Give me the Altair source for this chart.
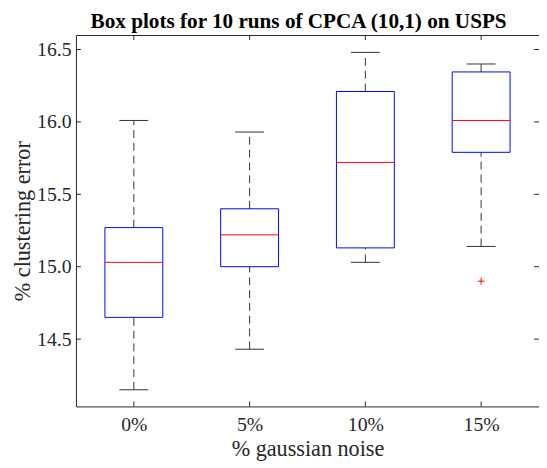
import json
import altair as alt
import pandas as pd

# ---- data ----
categories = ["0%", "5%", "10%", "15%"]
positions = [1, 2, 3, 4]
lower_whisker = [14.15, 14.43, 15.03, 15.14]
q1 = [14.65, 15.00, 15.13, 15.79]
median = [15.03, 15.22, 15.72, 16.01]
q3 = [15.27, 15.40, 16.21, 16.345]
upper_whisker = [16.01, 15.93, 16.48, 16.40]
outlier_pos = [4]
outlier_val = [14.90]
y_ticks = [14.5, 15, 15.5, 16, 16.5]

W, H = 470, 377
FONT = "Liberation Serif"
AXC = "#262626"

df = pd.DataFrame({"pos": positions, "cat": categories, "lo": lower_whisker,
                   "q1": q1, "med": median, "q3": q3, "hi": upper_whisker})
df_out = pd.DataFrame({"pos": outlier_pos, "val": outlier_val})
df_yt = pd.DataFrame({"v": y_ticks})

xs = alt.Scale(domain=[0.5, 4.5], nice=False, zero=False)
ys = alt.Scale(domain=[14.035, 16.6], nice=False, zero=False)

label_expr = json.dumps(categories) + "[datum.value - 1]"

base = alt.Chart(df).transform_calculate(
    bl="datum.pos - 0.25", br="datum.pos + 0.25",
    cl="datum.pos - 0.125", cr="datum.pos + 0.125")

xaxis = alt.Axis(values=positions, labelExpr=label_expr, title="% gaussian noise",
                 ticks=False, domain=False, grid=False, labelFontSize=20,
                 labelPadding=8, titleFontSize=22.5, titleFontWeight="normal",
                 titlePadding=4, labelColor=AXC, titleColor=AXC)
yaxis = alt.Axis(values=y_ticks, title="% clustering error", ticks=False, domain=False,
                 grid=False, labelFontSize=20, labelPadding=5, titleFontSize=22.5,
                 titleFontWeight="normal", titlePadding=2, labelColor=AXC, titleColor=AXC)

whisk_up = base.mark_rule(color="#333333", strokeDash=[8, 5], strokeWidth=1).encode(
    x=alt.X("pos:Q", scale=xs, axis=xaxis),
    y=alt.Y("q3:Q", scale=ys, axis=yaxis),
    y2="hi:Q")
whisk_dn = base.mark_rule(color="#333333", strokeDash=[8, 5], strokeWidth=1).encode(
    x=alt.X("pos:Q", scale=xs), y=alt.Y("lo:Q", scale=ys), y2="q1:Q")
cap_hi = base.mark_rule(color="#333333", strokeWidth=1).encode(
    x=alt.X("cl:Q", scale=xs), x2="cr:Q", y=alt.Y("hi:Q", scale=ys))
cap_lo = base.mark_rule(color="#333333", strokeWidth=1).encode(
    x=alt.X("cl:Q", scale=xs), x2="cr:Q", y=alt.Y("lo:Q", scale=ys))
box = base.mark_rect(fillOpacity=0, stroke="#0000ff", strokeWidth=1).encode(
    x=alt.X("bl:Q", scale=xs), x2="br:Q", y=alt.Y("q1:Q", scale=ys), y2="q3:Q")
med = base.mark_rule(color="#ff0000", strokeWidth=1).encode(
    x=alt.X("bl:Q", scale=xs), x2="br:Q", y=alt.Y("med:Q", scale=ys))
outl = alt.Chart(df_out).mark_point(shape="M-1,0L1,0M0,-1L0,1", size=49, filled=False,
                                    stroke="#ff0000", strokeWidth=1, opacity=1).encode(
    x=alt.X("pos:Q", scale=xs), y=alt.Y("val:Q", scale=ys))

tick_l = alt.Chart(df_yt).mark_rule(color=AXC).encode(
    y=alt.Y("v:Q", scale=ys), x=alt.value(0), x2=alt.value(5))
tick_r = alt.Chart(df_yt).mark_rule(color=AXC).encode(
    y=alt.Y("v:Q", scale=ys), x=alt.value(W - 5), x2=alt.value(W))
tick_t = alt.Chart(df).mark_rule(color=AXC).encode(
    x=alt.X("pos:Q", scale=xs), y=alt.value(0), y2=alt.value(5))
tick_b = alt.Chart(df).mark_rule(color=AXC).encode(
    x=alt.X("pos:Q", scale=xs), y=alt.value(H - 5), y2=alt.value(H))

chart = alt.layer(whisk_up, whisk_dn, cap_hi, cap_lo, box, med, outl,
                  tick_l, tick_r, tick_t, tick_b).properties(
    width=W, height=H,
    title=alt.TitleParams("Box plots for 10 runs of CPCA (10,1) on USPS",
                          fontSize=21.5, fontWeight="bold", font=FONT, color="#000000",
                          anchor="middle", offset=2.5, dx=-9),
    autosize=alt.AutoSizeParams(type="none"),
    padding={"left": 69, "top": 24, "right": 0, "bottom": 55},
).configure(font=FONT).configure_view(stroke=AXC, strokeWidth=1)

chart.save("out.html", embed_options={"renderer": "svg", "actions": False})
